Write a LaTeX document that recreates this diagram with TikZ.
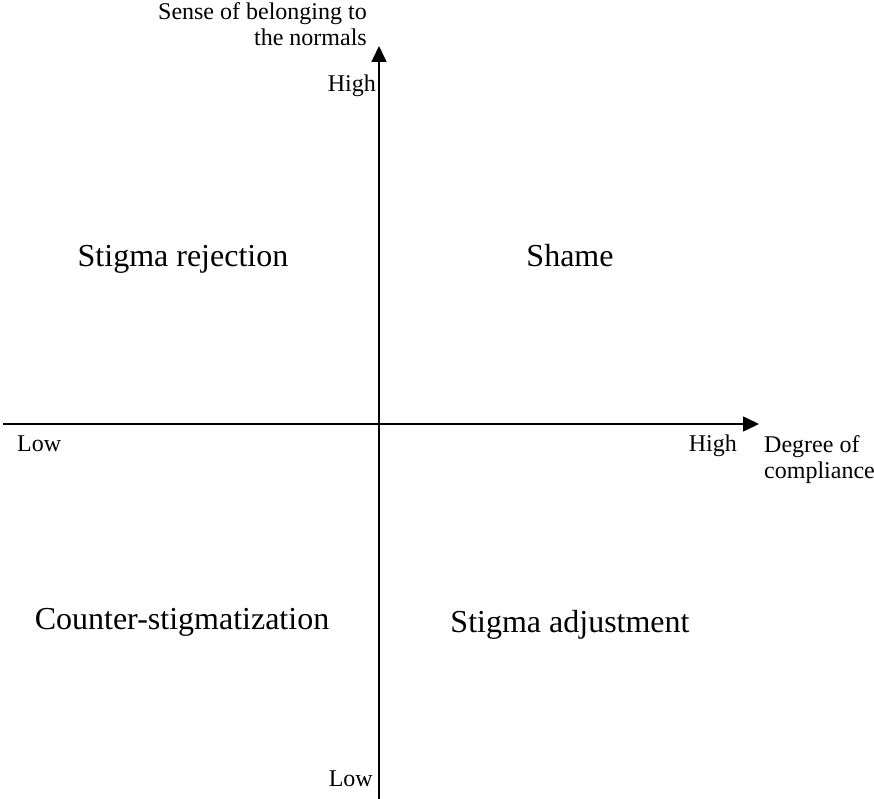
\documentclass[tikz,border=0pt]{standalone}
\usepackage{fontspec}
\setmainfont{Liberation Serif}
\usetikzlibrary{arrows.meta}

\begin{document}
\begin{tikzpicture}[
    x = 1pt, y = -1pt,
    axis/.style = {line width = 1.6pt, -{Triangle[length = 16pt, width = 15pt]}},
    every node/.style = {inner sep = 0pt},
    small label/.style = {font = \fontsize{24}{26}\selectfont},
    quadrant/.style = {font = \fontsize{32}{36}\selectfont, anchor = base},
  ]
  \useasboundingbox (0,0) rectangle (874,799);

  \coordinate (west) at (3,424);
  \coordinate (east) at (759,424);
  \coordinate (south) at (379,799);
  \coordinate (north) at (379,46);

  \draw [axis] (west) -- (east);
  \draw [axis] (south) -- (north);

  % axis labels
  \node [small label, align = right, anchor = base east] (y title) at (367,46)
        {Sense of belonging to\\the normals};
  \node [small label, anchor = base east] (y high) at (376,92) {High};
  \node [small label, anchor = base east] (y low) at (373,786) {Low};
  \node [small label, anchor = base west] (x low) at (17,451) {Low};
  \node [small label, anchor = base east] (x high) at (737,451) {High};
  \node [small label, align = left, anchor = base west] (x title) at (764,478)
        {Degree of\\compliance};

  % quadrants
  \node [quadrant] (rejection) at (183,267) {Stigma rejection};
  \node [quadrant] (shame) at (570,267) {Shame};
  \node [quadrant] (counter) at (182,629) {Counter-stigmatization};
  \node [quadrant] (adjustment) at (570,632) {Stigma adjustment};
\end{tikzpicture}
\end{document}
